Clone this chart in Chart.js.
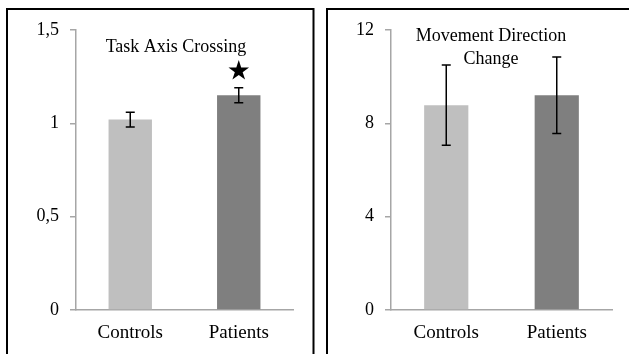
<!DOCTYPE html>
<html>
<head>
<meta charset="utf-8">
<script src="https://cdn.jsdelivr.net/npm/chart.js@4.4.1/dist/chart.umd.min.js"></script>
<style>
  html, body { margin: 0; padding: 0; background: #ffffff; }
  body { width: 629px; height: 354px; position: relative; overflow: hidden; }
  canvas { position: absolute; top: 0; }
  #crossing { left: 0; }
  #direction { left: 320px; }
</style>
</head>
<body>
<canvas id="crossing" width="320" height="354"></canvas>
<canvas id="direction" width="309" height="354"></canvas>
<script>
// Groups compared in both panels
const categories = ['Controls', 'Patients'];
const barColors = ['#bfbfbf', '#7f7f7f'];

// Task axis crossing: group means and error half-widths
const crossingMeans = [1.02, 1.15];
const crossingErrors = [0.04, 0.04];
const crossingSignificant = [false, true];
const crossingTicks = [0, 0.5, 1, 1.5];

// Movement direction change: group means and error half-widths
const directionMeans = [8.78, 9.2];
const directionErrors = [1.72, 1.64];
const directionSignificant = [false, false];
const directionTicks = [0, 4, 8, 12];

const SERIF = '"Liberation Serif", "Times New Roman", serif';
const AXIS_GREY = '#a6a6a6';

// Error bars, significance star, in-plot title and panel frame
const panelExtras = {
  id: 'panelExtras',
  beforeDraw(chart, args, opts) {
    const ctx = chart.ctx;
    ctx.save();
    ctx.strokeStyle = '#000';
    ctx.lineWidth = 2;
    ctx.strokeRect(opts.frame[0], opts.frame[1], opts.frame[2], opts.frame[3]);
    ctx.restore();
  },
  afterDatasetsDraw(chart, args, opts) {
    const ctx = chart.ctx;
    const y = chart.scales.y;
    const meta = chart.getDatasetMeta(0);
    const ds = chart.data.datasets[0];
    ctx.save();
    ctx.strokeStyle = '#000';
    ctx.fillStyle = '#000';
    ctx.lineWidth = 1.5;
    meta.data.forEach((bar, i) => {
      const v = ds.data[i];
      const e = ds.errors[i];
      const yTop = y.getPixelForValue(v + e);
      const yBot = y.getPixelForValue(v - e);
      const x = bar.x;
      const cap = 4.5;
      ctx.beginPath();
      ctx.moveTo(x, yTop); ctx.lineTo(x, yBot);
      ctx.moveTo(x - cap, yTop); ctx.lineTo(x + cap, yTop);
      ctx.moveTo(x - cap, yBot); ctx.lineTo(x + cap, yBot);
      ctx.stroke();
      if (ds.significant[i]) {
        const cy = yTop - 17;
        const R = 10.8, r = R * 0.382;
        ctx.beginPath();
        for (let k = 0; k < 10; k++) {
          const rad = k % 2 === 0 ? R : r;
          const ang = -Math.PI / 2 + k * Math.PI / 5;
          const px = x + rad * Math.cos(ang);
          const py = cy + rad * Math.sin(ang);
          if (k === 0) ctx.moveTo(px, py); else ctx.lineTo(px, py);
        }
        ctx.closePath();
        ctx.fill();
      }
    });
    ctx.font = '18px ' + SERIF;
    ctx.textAlign = 'center';
    ctx.textBaseline = 'alphabetic';
    opts.title.forEach((line, i) => {
      ctx.fillText(line, opts.titleX, opts.titleY + i * 23);
    });
    ctx.restore();
  }
};

function makePanel(id, means, errors, significant, ticks, yAxisWidth, padRight, frame, title, titleX, titleY) {
  const maxTick = ticks[ticks.length - 1];
  const step = ticks[1] - ticks[0];
  return new Chart(document.getElementById(id), {
    type: 'bar',
    data: {
      labels: categories,
      datasets: [{
        data: means,
        errors: errors,
        significant: significant,
        backgroundColor: barColors,
        borderWidth: 0,
        barPercentage: 0.4,
        categoryPercentage: 1
      }]
    },
    options: {
      responsive: false,
      devicePixelRatio: 1,
      animation: false,
      events: [],
      layout: { padding: { top: 30, right: padRight, bottom: 0, left: 0 } },
      plugins: {
        legend: { display: false },
        tooltip: { enabled: false },
        title: { display: false },
        panelExtras: { frame: frame, title: title, titleX: titleX, titleY: titleY }
      },
      scales: {
        x: {
          grid: { display: false },
          border: { display: true, color: AXIS_GREY, width: 1.5 },
          ticks: { color: '#000', font: { family: SERIF, size: 19 }, padding: 4 },
          afterFit(scale) { scale.height = 44; }
        },
        y: {
          min: 0,
          max: maxTick,
          afterBuildTicks(scale) { scale.ticks = ticks.map(v => ({ value: v })); },
          grid: { drawOnChartArea: false, drawTicks: true, tickLength: 6, color: AXIS_GREY, lineWidth: 1.5 },
          border: { display: true, color: AXIS_GREY, width: 1.5 },
          ticks: {
            color: '#000',
            font: { family: SERIF, size: 18 },
            padding: 11,
            stepSize: step,
            callback: v => String(v).replace('.', ',')
          },
          afterFit(scale) { scale.width = yAxisWidth; }
        }
      }
    },
    plugins: [panelExtras]
  });
}

makePanel('crossing', crossingMeans, crossingErrors, crossingSignificant, crossingTicks,
  76, 27, [7, 9, 306.5, 500], ['Task Axis Crossing'], 176, 52);
makePanel('direction', directionMeans, directionErrors, directionSignificant, directionTicks,
  71, 17, [7, 9, 500, 500], ['Movement Direction', 'Change'], 171, 40.5);
</script>
</body>
</html>
